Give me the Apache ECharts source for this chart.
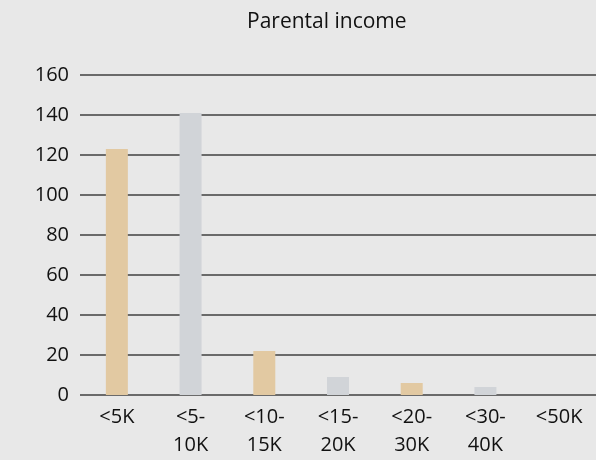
<!DOCTYPE html>
<html>
<head>
<meta charset="utf-8">
<script src="https://cdn.jsdelivr.net/npm/echarts@6/dist/echarts.min.js"></script>
<style>
html,body{margin:0;padding:0;background:#e8e8e8;}
#chart{width:596px;height:460px;}
</style>
</head>
<body>
<div id="chart"></div>
<script>
var title = 'Parental income';
var categories = ['<5K', '<5-\n10K', '<10-\n15K', '<15-\n20K', '<20-\n30K', '<30-\n40K', '<50K'];
var values = [123, 141, 22, 9, 6, 4, 0];
var barColors = ['#e2c9a2', '#d1d4d8'];
var yTicks = [0, 20, 40, 60, 80, 100, 120, 140, 160];

var FONT = '"Open Sans", "Noto Sans", sans-serif';
var chart = echarts.init(document.getElementById('chart'), null, {renderer: 'canvas'});
chart.setOption({
  backgroundColor: '#e8e8e8',
  animation: false,
  title: {
    text: title,
    left: 242,
    top: 7,
    textStyle: {fontFamily: FONT, fontSize: 21, fontWeight: 'normal', color: '#111111'}
  },
  grid: {left: 80, right: -6, top: 75, bottom: 65, containLabel: false},
  xAxis: {
    type: 'category',
    data: categories,
    axisLine: {show: false},
    axisTick: {show: false},
    axisLabel: {
      interval: 0,
      margin: 8,
      fontFamily: FONT,
      fontSize: 20,
      lineHeight: 28,
      color: '#111111'
    }
  },
  yAxis: {
    type: 'value',
    min: yTicks[0],
    max: yTicks[yTicks.length - 1],
    interval: 20,
    axisLine: {show: false},
    axisTick: {show: false},
    axisLabel: {margin: 11, fontFamily: FONT, fontSize: 20, color: '#111111'},
    splitLine: {lineStyle: {color: '#404040', width: 1.5}}
  },
  series: [{
    type: 'bar',
    barWidth: 22,
    data: values.map(function (v, i) {
      return {value: v, itemStyle: {color: barColors[i % 2]}};
    })
  }]
});
</script>
</body>
</html>
